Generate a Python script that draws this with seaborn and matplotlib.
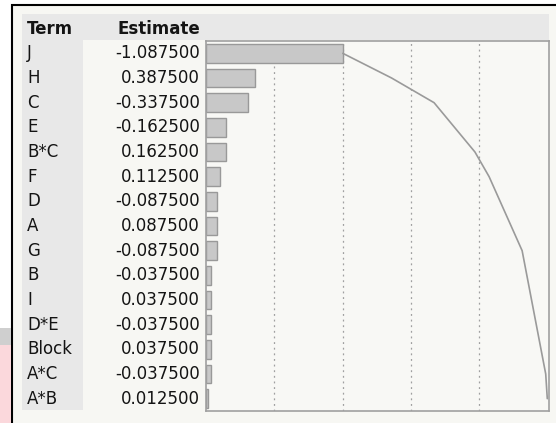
import numpy as np
import matplotlib
matplotlib.use("Agg")
import matplotlib.pyplot as plt
from matplotlib.patches import Rectangle
import pandas as pd
import seaborn as sb

# terms and estimates, already sorted by |estimate|
terms = ["J", "H", "C", "E", "B*C", "F", "D", "A", "G", "B", "I", "D*E", "Block", "A*C", "A*B"]
estimates = [-1.0875, 0.3875, -0.3375, -0.1625, 0.1625, 0.1125, -0.0875, 0.0875,
             -0.0875, -0.0375, 0.0375, -0.0375, 0.0375, -0.0375, 0.0125]

data = pd.DataFrame({"Term": terms, "Estimate": estimates})
data["Abs"] = data["Estimate"].abs()
data["Share"] = data["Abs"] / data["Abs"].sum()
data["Cum"] = data["Share"].cumsum()

W, H = 556, 423
sb.set_style("white")
plt.rcParams["font.family"] = ["DejaVu Sans"]

fig = plt.figure(figsize=(W / 100, H / 100), dpi=100)
fig.patch.set_facecolor("white")


def box(x0, y0, x1, y1, **kw):
    # rectangle in pixel coords (origin top-left), kept behind the axes
    r = Rectangle((x0 / W, 1 - y1 / H), (x1 - x0) / W, (y1 - y0) / H,
                  transform=fig.transFigure, zorder=-5, **kw)
    fig.patches.append(r)


# window background + outer border
box(12, 5, W + 5, H + 5, facecolor="#f7f7f3", edgecolor="black", lw=1.5)
box(0, 328, 11, 345, facecolor="#cfcfcf", edgecolor="none")
box(0, 345, 11, H, facecolor="#fbd8dc", edgecolor="none")
# header band and term column
box(22, 14, 549, 40, facecolor="#e8e8e8", edgecolor="none")
box(22, 40, 83, 410, facecolor="#e8e8e8", edgecolor="none")

ax = fig.add_axes([206 / W, 1 - 411 / H, 343 / W, 370 / H])
ax.set_facecolor("#f8f8f5")

for g in [0.2, 0.4, 0.6, 0.8]:
    ax.axvline(g, color="#a0a0a0", lw=0.9, ls=(0, (1.5, 3)), zorder=0)

sb.barplot(data=data, x="Share", y="Term", orient="h", color="#c8c8c8",
           edgecolor="#999999", linewidth=1, width=0.75, saturation=1, ax=ax, zorder=2)
sb.lineplot(x=data["Cum"].values, y=np.arange(len(data)), sort=False, estimator=None,
            color="#9a9a9a", lw=1.2, ax=ax, zorder=3)

ax.set_xlim(0, 1.005)
ax.set_ylim(len(data) - 0.5, -0.5)
ax.set_xticks([])
ax.set_yticks([])
ax.set_xlabel("")
ax.set_ylabel("")
for s in ax.spines.values():
    s.set_color("#a0a0a0")
    s.set_linewidth(1.2)

# table text, rows aligned to the bar axis
trans = matplotlib.transforms.blended_transform_factory(fig.transFigure, ax.transData)
for i, (t, e) in enumerate(zip(data["Term"], data["Estimate"])):
    ax.text(27 / W, i, t, transform=trans, ha="left", va="center", fontsize=12, color="#141414")
    ax.text(200 / W, i, f"{e:.6f}", transform=trans, ha="right", va="center",
            fontsize=12, color="#141414")

fig.text(27 / W, 1 - 28.5 / H, "Term", ha="left", va="center", fontsize=12, fontweight="bold",
         color="#141414")
fig.text(200 / W, 1 - 28.5 / H, "Estimate", ha="right", va="center", fontsize=12,
         fontweight="bold", color="#141414")

fig.savefig("out.png", dpi=100)
